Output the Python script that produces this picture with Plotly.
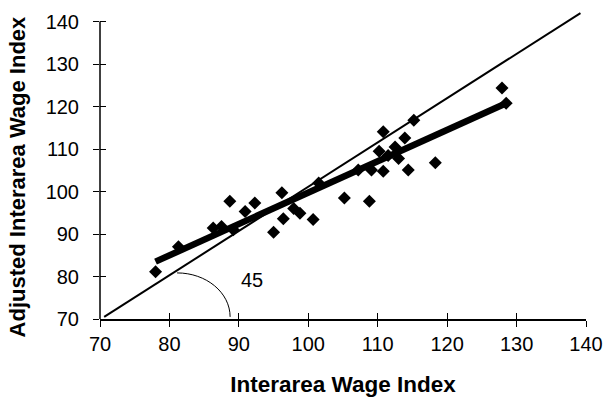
import plotly.graph_objects as go

# Interarea wage index vs adjusted index, one diamond per area
wage_index = [78.0, 81.3, 86.3, 87.5, 88.7, 89.2, 90.9, 92.3, 95.0, 96.2,
              96.4, 97.9, 98.8, 100.7, 101.5, 105.2, 107.2, 108.8, 109.1, 110.2,
              110.8, 110.8, 111.5, 112.5, 113.0, 113.9, 114.4, 115.2, 118.3, 127.9,
              128.5]
adjusted_index = [81.1, 87.0, 91.4, 91.8, 97.7, 91.0, 95.3, 97.3, 90.4, 99.7,
                  93.6, 96.0, 94.9, 93.4, 102.0, 98.5, 105.1, 97.7, 105.1, 109.5,
                  104.8, 114.1, 108.5, 110.5, 107.8, 112.6, 105.1, 116.8, 106.8, 124.4,
                  120.8]

# Fitted line endpoints and the 45-degree reference line
fit_x = [78.0, 128.5]
fit_y = [83.5, 120.8]
ref_x = [70.6, 139.2]
ref_y = [70.5, 142.0]

# Angle marker: quarter arc between reference line and x axis
arc_cx, arc_cy = 81.1, 70.5
arc_rx, arc_ry = 7.64, 10.35
angle_label = "45"

tick_vals = [70, 80, 90, 100, 110, 120, 130, 140]
tick_text = [str(v) for v in tick_vals]

FONT = "Liberation Sans, Arial, sans-serif"

fig = go.Figure()
fig.add_trace(go.Scatter(x=ref_x, y=ref_y, mode="lines",
                         line=dict(color="black", width=2), showlegend=False))
fig.add_trace(go.Scatter(x=fit_x, y=fit_y, mode="lines",
                         line=dict(color="black", width=6.5), showlegend=False))
fig.add_trace(go.Scatter(x=wage_index, y=adjusted_index, mode="markers",
                         marker=dict(symbol="diamond", size=10, color="black"),
                         showlegend=False, cliponaxis=False))

k = 0.552
arc_path = (f"M {arc_cx},{arc_cy + arc_ry} "
            f"C {arc_cx + k * arc_rx},{arc_cy + arc_ry} "
            f"{arc_cx + arc_rx},{arc_cy + k * arc_ry} "
            f"{arc_cx + arc_rx},{arc_cy}")
fig.add_shape(type="path", path=arc_path, xref="x", yref="y",
              line=dict(color="black", width=1))
# y axis line stops at the last tick
fig.add_shape(type="line", xref="paper", yref="y", x0=0, x1=0, y0=70, y1=140,
              line=dict(color="black", width=1.5))

fig.add_annotation(x=arc_cx + arc_rx + 3.1, y=arc_cy + 8.7, xref="x", yref="y",
                   text=angle_label, showarrow=False,
                   font=dict(family=FONT, size=20, color="black"))

# y-axis title placed beside the tick labels (paper coordinates)
fig.add_annotation(x=-0.170, y=0.461, xref="paper", yref="paper",
                   text="<b>Adjusted Interarea Wage Index</b>", textangle=-90,
                   showarrow=False, xanchor="center", yanchor="middle",
                   font=dict(family=FONT, size=22, color="black"))

axis_common = dict(tickmode="array", tickvals=tick_vals, ticktext=tick_text,
                   ticks="outside", ticklen=6, tickwidth=1.2, tickcolor="black",
                   showgrid=False, zeroline=False, automargin=False,
                   tickfont=dict(family=FONT, size=20, color="black"))

fig.update_layout(
    width=606, height=399,
    margin=dict(l=100, r=20, t=11, b=80),
    paper_bgcolor="white", plot_bgcolor="white",
    xaxis=dict(axis_common, range=[70, 140], showline=True, linecolor="black",
               linewidth=1.5, ticklabelstandoff=0,
               title=dict(text="<b>Interarea Wage Index</b>", standoff=22,
                          font=dict(family=FONT, size=22.5, color="black"))),
    yaxis=dict(axis_common, range=[70, 142.5], showline=False,
               ticklabelstandoff=10),
    xaxis2=dict(range=[70, 140], overlaying="x", tickmode="array", tickvals=tick_vals,
                ticks="inside", ticklen=6, tickwidth=1.2, tickcolor="black",
                showticklabels=False, showgrid=False, zeroline=False, showline=False,
                anchor="y2", side="bottom", automargin=False),
    yaxis2=dict(range=[70, 142.5], overlaying="y", tickmode="array", tickvals=tick_vals,
                ticks="inside", ticklen=6, tickwidth=1.2, tickcolor="black",
                showticklabels=False, showgrid=False, zeroline=False, showline=False,
                anchor="x2", side="left", automargin=False),
)
# invisible trace so the overlay axes are drawn
fig.add_trace(go.Scatter(x=[70], y=[70], xaxis="x2", yaxis="y2", mode="markers",
                         marker=dict(opacity=0), showlegend=False, hoverinfo="skip"))

fig.write_html("out.html")
